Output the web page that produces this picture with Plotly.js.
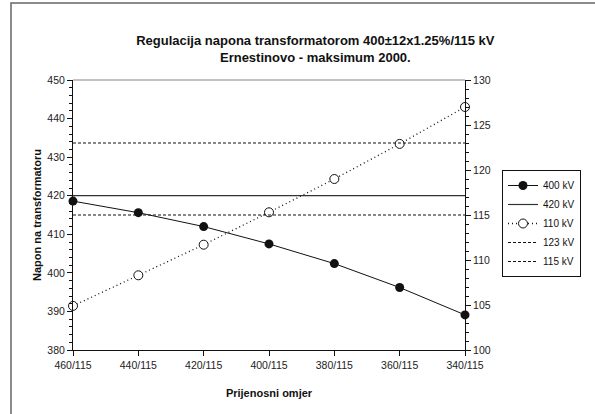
<!DOCTYPE html>
<html>
<head>
<meta charset="utf-8">
<script src="https://cdn.plot.ly/plotly-3.0.1.min.js"></script>
<style>
  html, body { margin: 0; padding: 0; background: #fff; }
  #chart { width: 595px; height: 414px; }
</style>
</head>
<body>
<div id="chart"></div>
<script>
const ratios = ["460/115", "440/115", "420/115", "400/115", "380/115", "360/115", "340/115"];
const u400 = [418.6, 415.6, 412.0, 407.5, 402.4, 396.2, 389.1];
const u110 = [104.9, 108.3, 111.7, 115.3, 119.0, 122.9, 127.0];
const limit420 = 420;
const limit123 = 123;
const limit115 = 115;

const ends = [ratios[0], ratios[ratios.length - 1]];
const FONT = "Liberation Sans, Arial, sans-serif";

const traces = [
  {
    x: ratios, y: u400, name: "400 kV", type: "scatter", mode: "lines+markers",
    line: { color: "#111", width: 1 },
    marker: { symbol: "circle", size: 9, color: "#111" },
    cliponaxis: false, yaxis: "y",
  },
  {
    x: ends, y: [limit420, limit420], name: "420 kV", type: "scatter", mode: "lines",
    line: { color: "#333", width: 1.2 }, yaxis: "y",
  },
  {
    x: ratios, y: u110, name: "110 kV", type: "scatter", mode: "lines+markers",
    line: { color: "#111", width: 1.3, dash: "1px,3px" },
    marker: { symbol: "circle", size: 9, color: "#fff", line: { color: "#111", width: 1 } },
    cliponaxis: false, yaxis: "y2",
  },
  {
    x: ends, y: [limit123, limit123], name: "123 kV", type: "scatter", mode: "lines",
    line: { color: "#111", width: 1, dash: "3px,2px" }, yaxis: "y2",
  },
  {
    x: ends, y: [limit115, limit115], name: "115 kV", type: "scatter", mode: "lines",
    line: { color: "#111", width: 1, dash: "3px,2px" }, yaxis: "y2",
  },
];

const layout = {
  width: 595,
  height: 414,
  margin: { l: 73, r: 130, t: 80, b: 64 },
  paper_bgcolor: "#fff",
  plot_bgcolor: "#fff",
  font: { family: FONT, color: "#222", size: 10.5 },
  showlegend: true,
  title: {
    text: "<b>Regulacija napona transformatorom 400±12x1.25%/115 kV<br>Ernestinovo - maksimum 2000.</b>",
    font: { family: FONT, size: 13, color: "#111" },
    x: 0.53, xanchor: "center",
    y: 1 - 45 / 414, yanchor: "top",
  },
  xaxis: {
    type: "category",
    range: [0, ratios.length - 1],
    showline: true, linecolor: "#111", linewidth: 1,
    ticks: "outside", ticklen: 5, tickcolor: "#111",
    showgrid: false, zeroline: false,
    title: { text: "<b>Prijenosni omjer</b>", font: { family: FONT, size: 11, color: "#111" }, standoff: 19 },
  },
  yaxis: {
    range: [380, 450], dtick: 10,
    showline: true, linecolor: "#111", linewidth: 1,
    ticks: "outside", ticklen: 5, tickcolor: "#111",
    minor: { dtick: 2, ticks: "outside", ticklen: 3, tickcolor: "#111" },
    showgrid: false, zeroline: false,
    title: { text: "<b>Napon na transformatoru</b>", font: { family: FONT, size: 11, color: "#111" }, standoff: 3 },
  },
  yaxis2: {
    overlaying: "y", side: "right",
    range: [100, 130], dtick: 5,
    showline: true, linecolor: "#111", linewidth: 1,
    ticks: "outside", ticklen: 5, tickcolor: "#111",
    minor: { dtick: 1, ticks: "outside", ticklen: 3, tickcolor: "#111" },
    showgrid: false, zeroline: false,
  },
  legend: {
    x: (502 - 73) / 392, xanchor: "left",
    y: (350 - 170) / 270, yanchor: "top",
    bordercolor: "#111", borderwidth: 1,
    bgcolor: "#fff",
    font: { family: FONT, size: 10, color: "#111" },
    tracegroupgap: 0,
  },
  shapes: [
    // grey top edge of the plot area
    { type: "line", xref: "paper", yref: "paper", x0: 0, x1: 1, y0: 1, y1: 1, line: { color: "#888", width: 1.2 } },
    // outer chart frame (only top and left edges visible)
    { type: "rect", xref: "paper", yref: "paper", x0: (11 - 73) / 392, x1: 2, y0: -2, y1: (350 - 3) / 270,
      line: { color: "#666", width: 1.5 } },
  ],
};

Plotly.newPlot("chart", traces, layout, { displayModeBar: false, staticPlot: true });
</script>
</body>
</html>
